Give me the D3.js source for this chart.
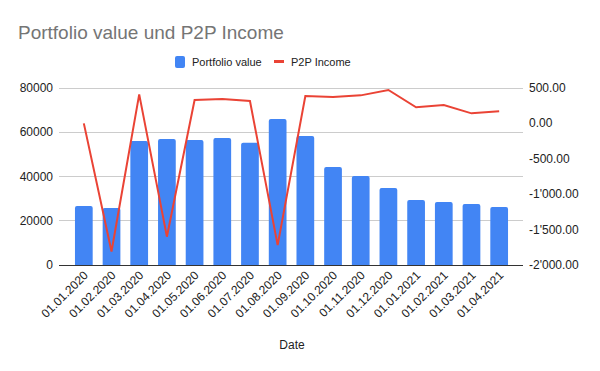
<!DOCTYPE html>
<meta charset="utf-8">
<style>
  body { margin: 0; background: #fff; }
  text { font-family: "Liberation Sans", Arial, sans-serif; }
</style>
<body>
<script src="https://d3js.org/d3.v7.min.js"></script>
<script>
var dates = ["01.01.2020","01.02.2020","01.03.2020","01.04.2020","01.05.2020","01.06.2020",
  "01.07.2020","01.08.2020","01.09.2020","01.10.2020","01.11.2020","01.12.2020",
  "01.01.2021","01.02.2021","01.03.2021","01.04.2021"];
var portfolio = [26700, 25800, 56000, 57000, 56500, 57400, 55200, 66000,
  58300, 44300, 40200, 34800, 29400, 28500, 27600, 26200];
var income = [0, -1810, 410, -1600, 330, 345, 316, -1720,
  387, 373, 396, 472, 227, 260, 142, 171];
var leftTicks = [0, 20000, 40000, 60000, 80000];
var rightTicks = [-2000, -1500, -1000, -500, 0, 500];

var W = 600, H = 371;
var margin = {top: 88, right: 82, bottom: 106, left: 65};

var svg = d3.select("body").append("svg")
    .attr("width", W)
    .attr("height", H);

svg.append("rect").attr("width", W).attr("height", H).attr("fill", "#fff");

// title
svg.append("text")
    .attr("x", 18).attr("y", 39)
    .attr("font-size", 19)
    .attr("fill", "#757575")
    .text("Portfolio value und P2P Income");

// scales
var x = d3.scaleBand()
    .domain(dates)
    .range([margin.left, W - margin.right])
    .padding(0.36);

var y = d3.scaleLinear().domain([0, 80000]).range([H - margin.bottom, margin.top]);
var y2 = d3.scaleLinear().domain([-2000, 500]).range([H - margin.bottom, margin.top]);

var loc = d3.formatLocale({decimal: ".", thousands: "'", grouping: [3], currency: ["", ""], minus: "-"});
var fmt2 = loc.format(",.2f");

// gridlines
svg.append("g").selectAll("line")
  .data(leftTicks)
  .enter().append("line")
    .attr("x1", 59).attr("x2", 523)
    .attr("y1", function(d) { return y(d); })
    .attr("y2", function(d) { return y(d); })
    .attr("stroke", function(d) { return d === 0 ? "#333" : "#ccc"; })
    .attr("stroke-width", 1)
    .attr("shape-rendering", "crispEdges");

// left axis labels
svg.append("g").selectAll("text")
  .data(leftTicks)
  .enter().append("text")
    .attr("x", 53)
    .attr("y", function(d) { return y(d) + 4; })
    .attr("text-anchor", "end")
    .attr("font-size", 12)
    .attr("fill", "#222")
    .text(function(d) { return d; });

// right axis labels
svg.append("g").selectAll("text")
  .data(rightTicks)
  .enter().append("text")
    .attr("x", 529)
    .attr("y", function(d) { return y2(d) + 4; })
    .attr("font-size", 12)
    .attr("fill", "#222")
    .text(function(d) { return fmt2(d); });

// bars
svg.append("g").selectAll("path")
  .data(dates)
  .enter().append("path")
    .attr("fill", "#4285f4")
    .attr("d", function(d, i) {
      var x0 = x(d), w = x.bandwidth(), top = y(portfolio[i]), base = y(0), r = 2;
      return "M" + x0 + "," + base + "V" + (top + r) +
        "Q" + x0 + "," + top + " " + (x0 + r) + "," + top +
        "H" + (x0 + w - r) +
        "Q" + (x0 + w) + "," + top + " " + (x0 + w) + "," + (top + r) +
        "V" + base + "Z";
    });

// baseline on top of bars
svg.append("line")
    .attr("x1", 59).attr("x2", 523)
    .attr("y1", y(0)).attr("y2", y(0))
    .attr("stroke", "#333")
    .attr("shape-rendering", "crispEdges");

// income line
var line = d3.line()
    .x(function(d, i) { return x(dates[i]) + x.bandwidth() / 2; })
    .y(function(d) { return y2(d); });

svg.append("path")
    .datum(income)
    .attr("fill", "none")
    .attr("stroke", "#ea4335")
    .attr("stroke-width", 2)
    .attr("stroke-linejoin", "miter")
    .attr("d", line);

// x labels
svg.append("g").selectAll("text")
  .data(dates)
  .enter().append("text")
    .attr("transform", function(d) {
      return "translate(" + (x(d) + x.bandwidth() / 2 + 5) + "," + 276 + ") rotate(-45)";
    })
    .attr("text-anchor", "end")
    .attr("font-size", 12)
    .attr("fill", "#222")
    .text(function(d) { return d; });

// x title
svg.append("text")
    .attr("x", 292).attr("y", 349)
    .attr("text-anchor", "middle")
    .attr("font-size", 12)
    .attr("fill", "#222")
    .text("Date");

// legend
var lg = svg.append("g");
lg.append("rect")
    .attr("x", 175).attr("y", 56).attr("width", 10).attr("height", 12)
    .attr("rx", 2).attr("fill", "#4285f4");
lg.append("text")
    .attr("x", 192).attr("y", 66)
    .attr("font-size", 11)
    .attr("fill", "#222")
    .text("Portfolio value");
lg.append("rect")
    .attr("x", 274).attr("y", 60).attr("width", 10).attr("height", 3)
    .attr("fill", "#ea4335");
lg.append("text")
    .attr("x", 291).attr("y", 66)
    .attr("font-size", 11)
    .attr("fill", "#222")
    .text("P2P Income");
</script>
</body>
